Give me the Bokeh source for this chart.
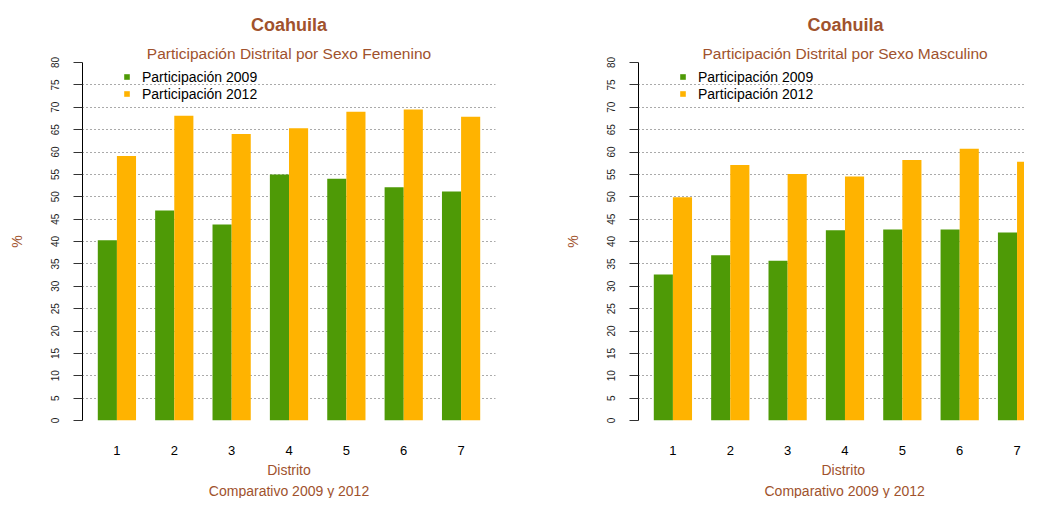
from bokeh.plotting import figure
from bokeh.models import Range1d, FixedTicker, Legend, LegendItem, Title, ColumnDataSource
from bokeh.layouts import row
from bokeh.embed import file_html
from bokeh.resources import INLINE

# ---- data ----
distritos = ["1", "2", "3", "4", "5", "6", "7"]
fem_2009 = [40.3, 46.9, 43.8, 55.0, 54.0, 52.1, 51.2]
fem_2012 = [59.1, 68.1, 64.0, 65.3, 69.0, 69.5, 67.9]
mas_2009 = [32.6, 36.9, 35.7, 42.5, 42.7, 42.7, 42.0]
mas_2012 = [49.9, 57.1, 55.1, 54.5, 58.2, 60.7, 57.8]
y_ticks = list(range(0, 85, 5))
state = "Coahuila"
subtitles = ["Participación Distrital por Sexo Femenino",
             "Participación Distrital por Sexo Masculino"]
series_labels = ["Participación 2009", "Participación 2012"]
x_title = "Distrito"
x_subtitle = "Comparativo 2009 y 2012"

GREEN = "#4E9A06"
ORANGE = "#FFB300"
BROWN = "#A0522D"
FONT = "Liberation Sans"


def title(text, size, style="normal", **kw):
    return Title(text=text, text_font=FONT, text_font_size=size,
                 text_font_style=style, text_color=BROWN, **kw)


def make_panel(subtitle, v09, v12, width, x_end, border_right, align, offsets):
    n = len(distritos)
    centers = [3 * (i + 1) - 1 for i in range(n)]
    src = ColumnDataSource(dict(
        x09=[c - 0.5 for c in centers], x12=[c + 0.5 for c in centers],
        v09=v09, v12=v12))
    p = figure(width=width, height=498, output_backend="svg", toolbar_location=None,
               tools="", x_range=Range1d(0.2, x_end), y_range=Range1d(0, 80),
               min_border_left=82, min_border_right=border_right,
               min_border_top=62, min_border_bottom=78)
    p.outline_line_color = None
    p.background_fill_color = "white"
    p.border_fill_color = "white"

    r09 = p.vbar(x="x09", top="v09", width=1, bottom=0, source=src,
                 fill_color=GREEN, line_color=None)
    r12 = p.vbar(x="x12", top="v12", width=1, bottom=0, source=src,
                 fill_color=ORANGE, line_color=None)

    # x axis
    p.xaxis.ticker = FixedTicker(ticks=centers)
    p.xaxis.major_label_overrides = {c: d for c, d in zip(centers, distritos)}
    p.xaxis.axis_line_color = None
    p.xaxis.major_tick_line_color = None
    p.xaxis.minor_tick_line_color = None
    p.xaxis.major_label_standoff = 19
    p.xaxis.major_label_text_font = FONT
    p.xaxis.major_label_text_font_size = "13px"
    p.xaxis.major_label_text_color = "black"
    p.xgrid.grid_line_color = None

    # y axis
    p.yaxis.ticker = FixedTicker(ticks=y_ticks)
    p.yaxis.major_label_orientation = "vertical"
    p.yaxis.major_label_text_font = FONT
    p.yaxis.major_label_text_font_size = "10px"
    p.yaxis.major_label_text_color = "#222222"
    p.yaxis.major_label_standoff = 15
    p.yaxis.major_tick_out = 9
    p.yaxis.major_tick_in = 0
    p.yaxis.minor_tick_line_color = None
    p.yaxis.axis_line_color = "black"
    p.yaxis.major_tick_line_color = "#333333"
    p.yaxis.axis_label = "%"
    p.yaxis.axis_label_text_font = FONT
    p.yaxis.axis_label_text_font_style = "normal"
    p.yaxis.axis_label_text_font_size = "14px"
    p.yaxis.axis_label_text_color = BROWN
    p.yaxis.axis_label_standoff = 23
    p.ygrid.ticker = FixedTicker(ticks=y_ticks)
    p.ygrid.grid_line_color = "#555555"
    p.ygrid.grid_line_dash = "1 3"
    p.ygrid.grid_line_width = 1

    # titles
    p.add_layout(title(subtitle, "15.5px", align=align, offset=offsets[1], standoff=2), "above")
    p.add_layout(title(state, "18px", "bold", align=align, offset=offsets[0], standoff=13), "above")
    p.add_layout(title(x_title, "14px", align=align, offset=offsets[2], standoff=5), "below")
    p.add_layout(title(x_subtitle, "14px", align=align, offset=offsets[3], standoff=0), "below")

    legend = Legend(items=[LegendItem(label=series_labels[0], renderers=[r09]),
                           LegendItem(label=series_labels[1], renderers=[r12])],
                    location=(41, 318), orientation="vertical",
                    border_line_color=None, background_fill_alpha=0,
                    padding=0, margin=0, spacing=0,
                    glyph_width=7, glyph_height=7, label_height=17,
                    label_standoff=12, label_text_font=FONT,
                    label_text_font_size="14px", label_text_color="black")
    p.add_layout(legend)
    return p


p1 = make_panel(subtitles[0], fem_2009, fem_2012, 556, 21.8, 61, "center", [0, 0, 0, 0])
p2 = make_panel(subtitles[1], mas_2009, mas_2012, 468, 20.39, 0, "left", [169, 64, 183, 126])
layout = row(p1, p2)

open("out.html", "w").write(file_html(layout, INLINE))
